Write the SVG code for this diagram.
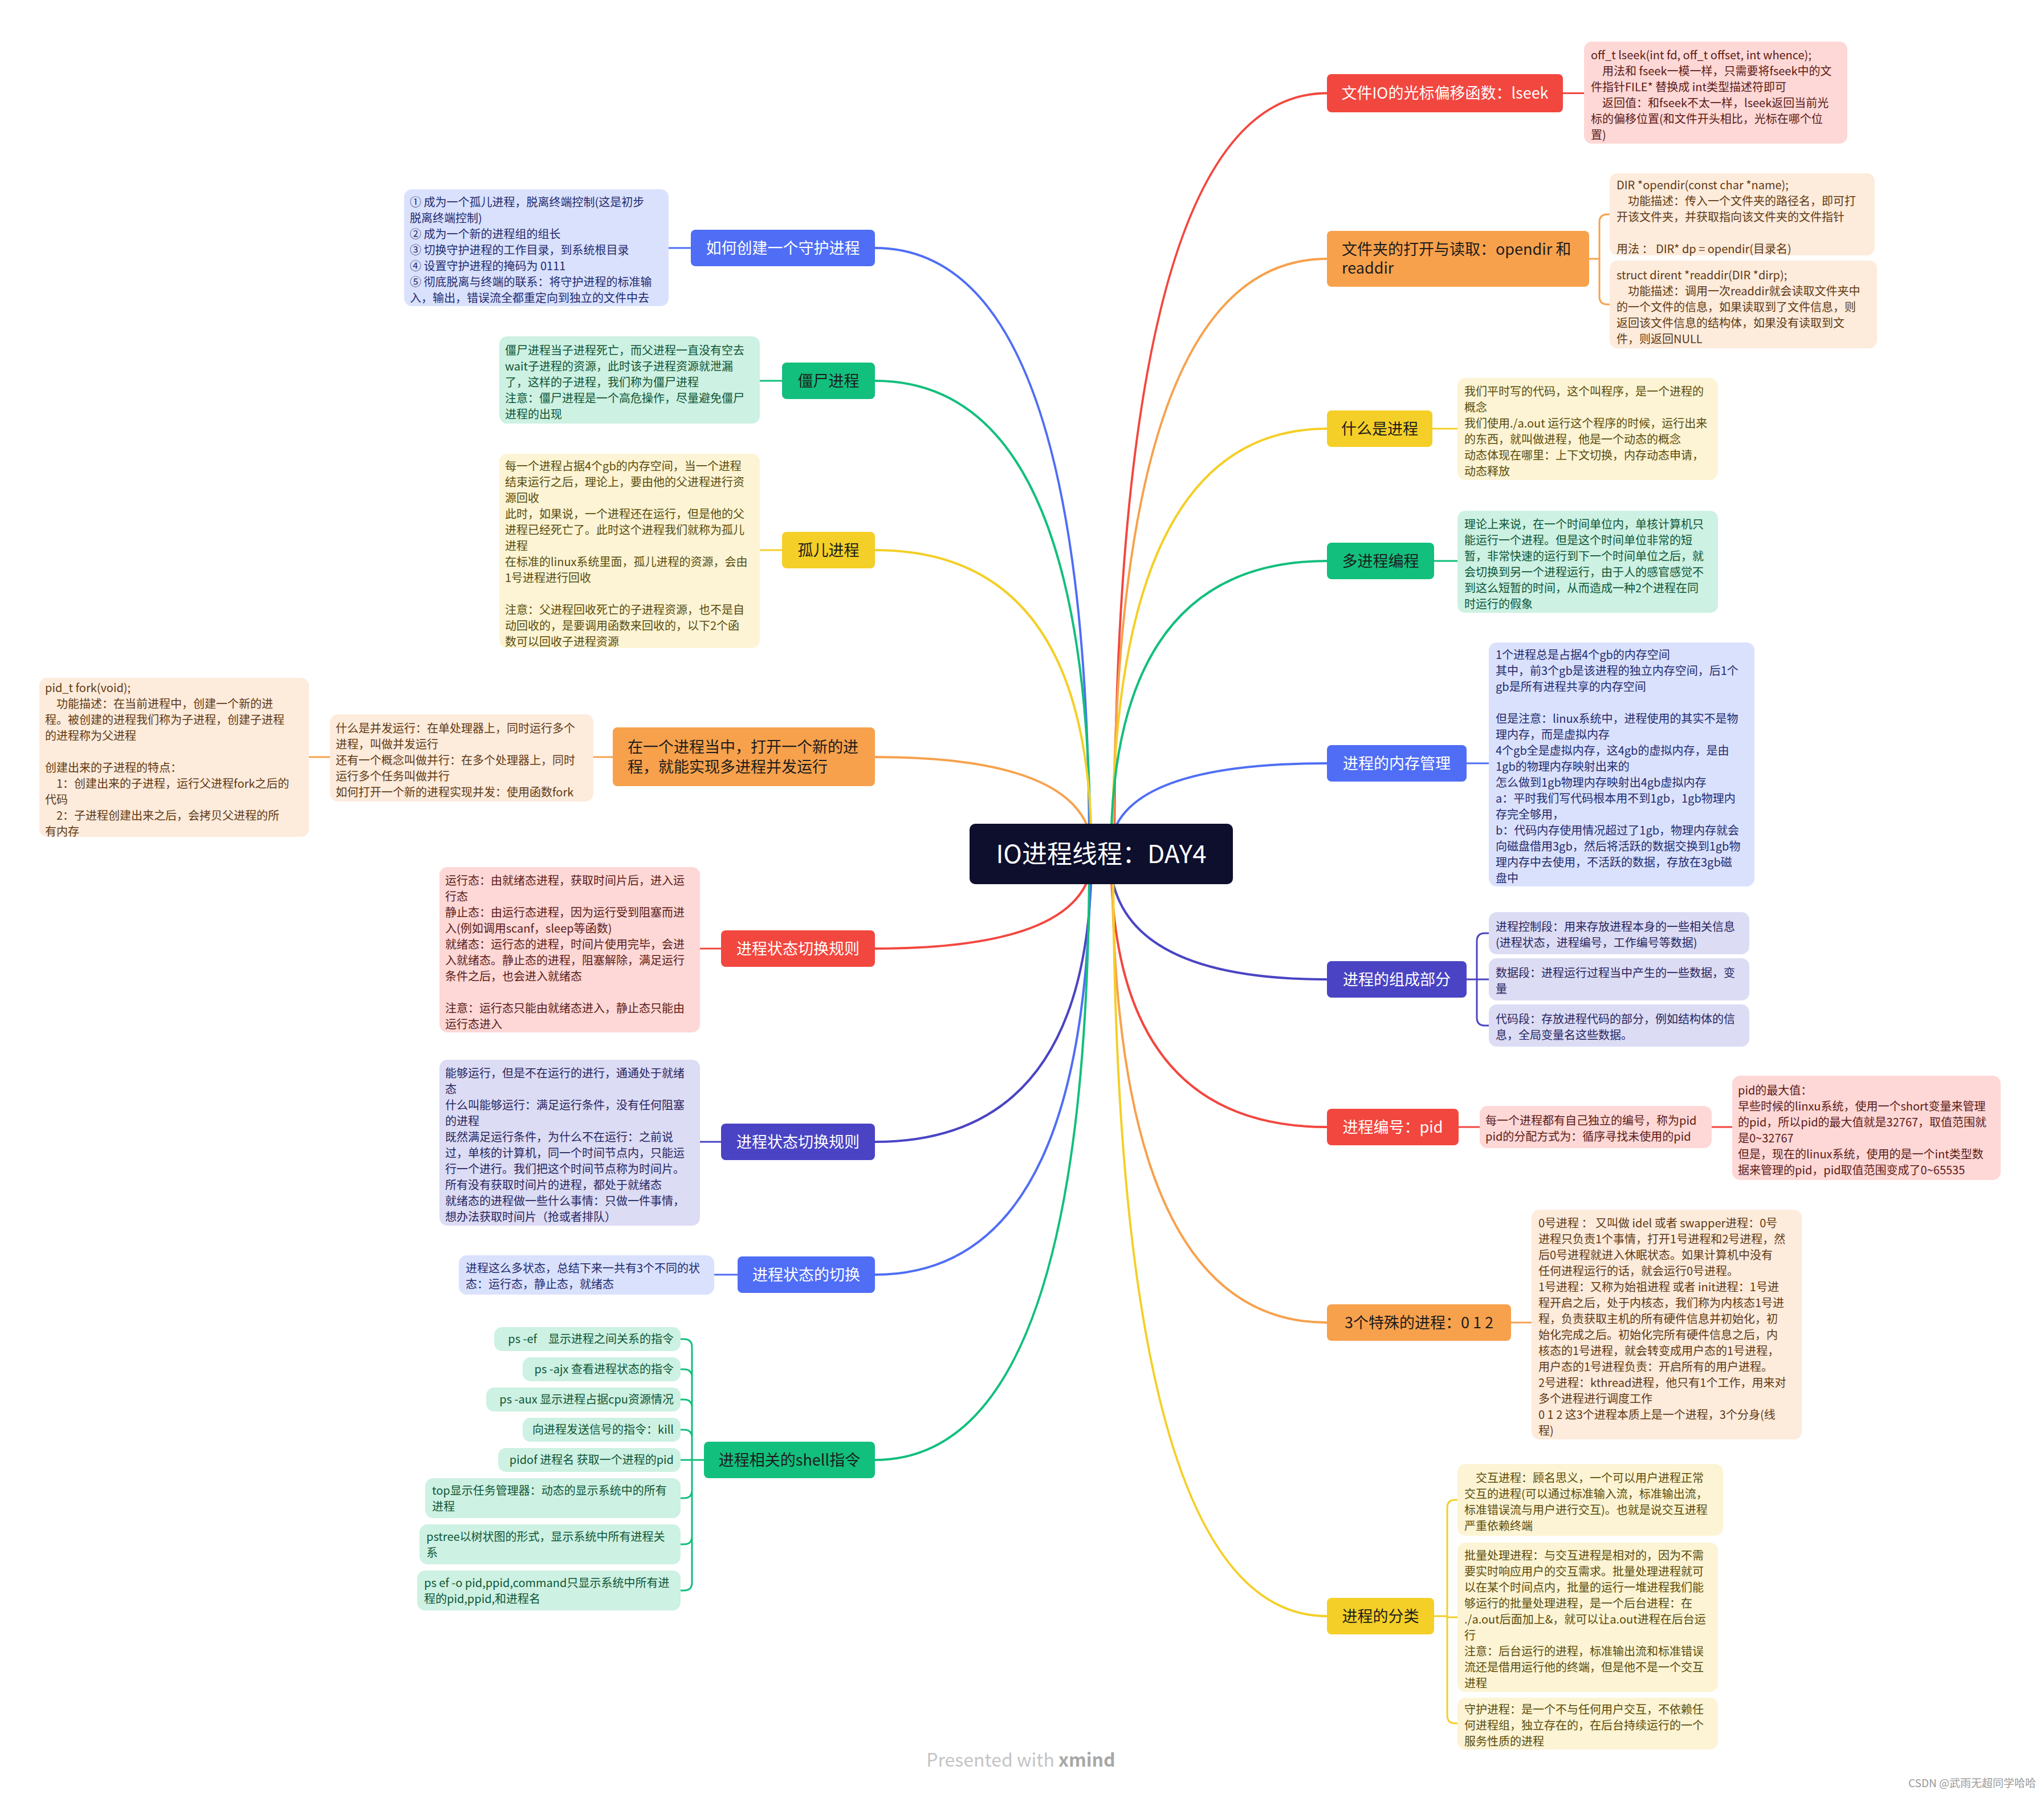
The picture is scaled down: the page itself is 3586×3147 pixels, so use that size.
<svg xmlns="http://www.w3.org/2000/svg" width="3586" height="3147" viewBox="0 0 3586 3147">
<style>
text{font-family:"Noto Sans CJK SC","Noto Sans",sans-serif}
.bt{font-size:20px}
.nt{font-size:27px}
.w{fill:#ffffff}
.dk{fill:#1c1c1c}
.c{fill:none;stroke-linecap:round;stroke-linejoin:round}
.m{stroke-width:4}
.s{stroke-width:3}
.sr{stroke:#f2473f}.so{stroke:#f7a14c}.sy{stroke:#f4cf27}.sg{stroke:#12bf7d}.sb{stroke:#4f6ef5}.sp{stroke:#4a44c4}
.nr{fill:#f2473f}.no{fill:#f7a14c}.ny{fill:#f4cf27}.ng{fill:#12bf7d}.nb{fill:#4f6ef5}.np{fill:#4a44c4}
.br{fill:#fdd8d6}.bo{fill:#fdebdc}.by{fill:#fcf4d4}.bg{fill:#cdf1e2}.bb{fill:#dae1fd}.bp{fill:#dcdcf4}
.tr{fill:#5c1a17}.to{fill:#5f3a13}.ty{fill:#5a4c0c}.tg{fill:#0e5537}.tb{fill:#1f2b6e}.tp{fill:#28255e}
</style>
<rect width="3586" height="3147" fill="#ffffff"/>

<g id="connectors">
<path class="c m sr" d="M1955,1498 Q1955,163.5 2328,163.5"/>
<path class="c m so" d="M1953,1498 Q1953,454 2328,454"/>
<path class="c m sy" d="M1951,1498 Q1951,752 2328,752"/>
<path class="c m sg" d="M1949,1498 Q1949,984 2328,984"/>
<path class="c m sb" d="M1947,1498 Q1947,1339 2328,1339"/>
<path class="c m sp" d="M1947,1498 Q1947,1718 2328,1718"/>
<path class="c m sr" d="M1949,1498 Q1949,1977 2328,1977"/>
<path class="c m so" d="M1951,1498 Q1951,2320 2328,2320"/>
<path class="c m sy" d="M1953,1498 Q1953,2835 2328,2835"/>
<path class="c m sb" d="M1911,1498 Q1911,435 1535,435"/>
<path class="c m sg" d="M1913,1498 Q1913,668 1535,668"/>
<path class="c m sy" d="M1915,1498 Q1915,965 1535,965"/>
<path class="c m so" d="M1917,1498 Q1917,1328 1535,1328"/>
<path class="c m sr" d="M1917,1498 Q1917,1664 1535,1664"/>
<path class="c m sp" d="M1915,1498 Q1915,2003 1535,2003"/>
<path class="c m sb" d="M1913,1498 Q1913,2236 1535,2236"/>
<path class="c m sg" d="M1911,1498 Q1911,2561 1535,2561"/>

<path class="c s sb" d="M1212,435 H1173"/>
<path class="c s sg" d="M1372,668 H1333"/>
<path class="c s sy" d="M1372,965 H1333"/>
<path class="c s so" d="M1075,1328 H1041 M579,1328 H542"/>
<path class="c s sr" d="M1265,1664 H1228"/>
<path class="c s sp" d="M1265,2003 H1228"/>
<path class="c s sb" d="M1294,2236 H1253"/>
<path class="c s sg" d="M1235,2561 H1214 M1214,2561 V2363 Q1214,2349 1200,2349 H1194 M1214,2416 Q1214,2402 1200,2402 H1194 M1214,2469 Q1214,2455 1200,2455 H1194 M1214,2522 Q1214,2508 1200,2508 H1194 M1214,2561 H1194 M1214,2561 V2776 Q1214,2790 1200,2790 H1194 M1214,2614 Q1214,2628 1200,2628 H1194 M1214,2695 Q1214,2709 1200,2709 H1194"/>

<path class="c s sr" d="M2742,163.5 H2779"/>
<path class="c s so" d="M2788,454 H2806 M2806,454 V390 Q2806,376 2820,376 H2824 M2806,454 V520 Q2806,534 2820,534 H2824"/>
<path class="c s sy" d="M2513,752 H2557"/>
<path class="c s sg" d="M2516,984 H2557"/>
<path class="c s sb" d="M2573,1339 H2612"/>
<path class="c s sp" d="M2573,1718 H2612 M2591,1718 V1651 Q2591,1637 2605,1637 H2612 M2591,1718 V1785 Q2591,1799 2605,1799 H2612"/>
<path class="c s sr" d="M2559,1977 H2596 M3003,1977 H3039"/>
<path class="c s so" d="M2651,2320 H2687"/>
<path class="c s sy" d="M2516,2835 H2539 M2539,2835 V2645 Q2539,2631 2553,2631 H2557 M2539,2835 V3009 Q2539,3023 2553,3023 H2557 M2539,2837 H2557"/>
</g>

<g id="root">
<rect x="1701" y="1445" width="462" height="106" rx="10" fill="#0d0f2d"/>
<text x="1932" y="1514" font-size="44" text-anchor="middle" class="w">IO进程线程：DAY4</text>
</g>

<!-- Right side main nodes -->
<g id="n-lseek">
<rect class="nr" x="2328" y="130" width="414" height="67" rx="8"/>
<text class="nt w" x="2535" y="173" text-anchor="middle">文件IO的光标偏移函数：lseek</text>
</g>
<g id="b-lseek">
<rect class="br" x="2779" y="73" width="462" height="179" rx="14"/>
<text class="bt tr" x="2791" y="104"><tspan x="2791">off_t lseek(int fd, off_t offset, int whence);</tspan><tspan x="2791" dy="28">　用法和 fseek一模一样，只需要将fseek中的文</tspan><tspan x="2791" dy="28">件指针FILE* 替换成 int类型描述符即可</tspan><tspan x="2791" dy="28">　返回值：和fseek不太一样，lseek返回当前光</tspan><tspan x="2791" dy="28">标的偏移位置(和文件开头相比，光标在哪个位</tspan><tspan x="2791" dy="28">置)</tspan></text>
</g>

<g id="n-opendir">
<rect class="no" x="2328" y="405" width="460" height="98" rx="8"/>
<text class="nt dk" x="2354" y="447"><tspan x="2354">文件夹的打开与读取：opendir 和</tspan><tspan x="2354" dy="33">readdir</tspan></text>
</g>
<g id="b-opendir">
<rect class="bo" x="2824" y="304" width="465" height="144" rx="14"/>
<text class="bt to" x="2836" y="332"><tspan x="2836">DIR *opendir(const char *name);</tspan><tspan x="2836" dy="28">　功能描述：传入一个文件夹的路径名，即可打</tspan><tspan x="2836" dy="28">开该文件夹，并获取指向该文件夹的文件指针</tspan><tspan x="2836" dy="56">用法 ： DIR* dp = opendir(目录名)</tspan></text>
</g>
<g id="b-readdir">
<rect class="bo" x="2824" y="457" width="469" height="154" rx="14"/>
<text class="bt to" x="2836" y="490"><tspan x="2836">struct dirent *readdir(DIR *dirp);</tspan><tspan x="2836" dy="28">　功能描述：调用一次readdir就会读取文件夹中</tspan><tspan x="2836" dy="28">的一个文件的信息，如果读取到了文件信息，则</tspan><tspan x="2836" dy="28">返回该文件信息的结构体，如果没有读取到文</tspan><tspan x="2836" dy="28">件，则返回NULL</tspan></text>
</g>

<g id="n-what">
<rect class="ny" x="2328" y="720" width="185" height="64" rx="8"/>
<text class="nt dk" x="2420.5" y="761.5" text-anchor="middle">什么是进程</text>
</g>
<g id="b-what">
<rect class="by" x="2557" y="663" width="457" height="179" rx="14"/>
<text class="bt ty" x="2569" y="694"><tspan x="2569">我们平时写的代码，这个叫程序，是一个进程的</tspan><tspan x="2569" dy="28">概念</tspan><tspan x="2569" dy="28">我们使用./a.out 运行这个程序的时候，运行出来</tspan><tspan x="2569" dy="28">的东西，就叫做进程，他是一个动态的概念</tspan><tspan x="2569" dy="28">动态体现在哪里：上下文切换，内存动态申请，</tspan><tspan x="2569" dy="28">动态释放</tspan></text>
</g>

<g id="n-multi">
<rect class="ng" x="2328" y="952" width="188" height="64" rx="8"/>
<text class="nt dk" x="2422" y="993.5" text-anchor="middle">多进程编程</text>
</g>
<g id="b-multi">
<rect class="bg" x="2557" y="896" width="457" height="179" rx="14"/>
<text class="bt tg" x="2569" y="927"><tspan x="2569">理论上来说，在一个时间单位内，单核计算机只</tspan><tspan x="2569" dy="28">能运行一个进程。但是这个时间单位非常的短</tspan><tspan x="2569" dy="28">暂，非常快速的运行到下一个时间单位之后，就</tspan><tspan x="2569" dy="28">会切换到另一个进程运行，由于人的感官感觉不</tspan><tspan x="2569" dy="28">到这么短暂的时间，从而造成一种2个进程在同</tspan><tspan x="2569" dy="28">时运行的假象</tspan></text>
</g>

<g id="n-mem">
<rect class="nb" x="2328" y="1307" width="245" height="64" rx="8"/>
<text class="nt w" x="2450.5" y="1348.5" text-anchor="middle">进程的内存管理</text>
</g>
<g id="b-mem">
<rect class="bb" x="2612" y="1127" width="466" height="428" rx="14"/>
<text class="bt tb" x="2624" y="1156"><tspan x="2624">1个进程总是占据4个gb的内存空间</tspan><tspan x="2624" dy="28">其中，前3个gb是该进程的独立内存空间，后1个</tspan><tspan x="2624" dy="28">gb是所有进程共享的内存空间</tspan><tspan x="2624" dy="56">但是注意：linux系统中，进程使用的其实不是物</tspan><tspan x="2624" dy="28">理内存，而是虚拟内存</tspan><tspan x="2624" dy="28">4个gb全是虚拟内存，这4gb的虚拟内存，是由</tspan><tspan x="2624" dy="28">1gb的物理内存映射出来的</tspan><tspan x="2624" dy="28">怎么做到1gb物理内存映射出4gb虚拟内存</tspan><tspan x="2624" dy="28">a：平时我们写代码根本用不到1gb，1gb物理内</tspan><tspan x="2624" dy="28">存完全够用，</tspan><tspan x="2624" dy="28">b：代码内存使用情况超过了1gb，物理内存就会</tspan><tspan x="2624" dy="28">向磁盘借用3gb，然后将活跃的数据交换到1gb物</tspan><tspan x="2624" dy="28">理内存中去使用，不活跃的数据，存放在3gb磁</tspan><tspan x="2624" dy="28">盘中</tspan></text>
</g>

<g id="n-comp">
<rect class="np" x="2328" y="1686" width="245" height="64" rx="8"/>
<text class="nt w" x="2450.5" y="1727.5" text-anchor="middle">进程的组成部分</text>
</g>
<g id="b-comp1">
<rect class="bp" x="2612" y="1600" width="457" height="74" rx="14"/>
<text class="bt tp" x="2624" y="1633"><tspan x="2624">进程控制段：用来存放进程本身的一些相关信息</tspan><tspan x="2624" dy="28">(进程状态，进程编号，工作编号等数据)</tspan></text>
</g>
<g id="b-comp2">
<rect class="bp" x="2612" y="1681" width="457" height="74" rx="14"/>
<text class="bt tp" x="2624" y="1714"><tspan x="2624">数据段：进程运行过程当中产生的一些数据，变</tspan><tspan x="2624" dy="28">量</tspan></text>
</g>
<g id="b-comp3">
<rect class="bp" x="2612" y="1762" width="457" height="74" rx="14"/>
<text class="bt tp" x="2624" y="1795"><tspan x="2624">代码段：存放进程代码的部分，例如结构体的信</tspan><tspan x="2624" dy="28">息，全局变量名这些数据。</tspan></text>
</g>

<g id="n-pid">
<rect class="nr" x="2328" y="1945" width="231" height="64" rx="8"/>
<text class="nt w" x="2443.5" y="1986.5" text-anchor="middle">进程编号：pid</text>
</g>
<g id="b-pid1">
<rect class="br" x="2596" y="1940" width="407" height="74" rx="14"/>
<text class="bt tr" x="2606" y="1973"><tspan x="2606">每一个进程都有自己独立的编号，称为pid</tspan><tspan x="2606" dy="28">pid的分配方式为：循序寻找未使用的pid</tspan></text>
</g>
<g id="b-pid2">
<rect class="br" x="3039" y="1887" width="471" height="183" rx="14"/>
<text class="bt tr" x="3049" y="1920"><tspan x="3049">pid的最大值：</tspan><tspan x="3049" dy="28">早些时候的linxu系统，使用一个short变量来管理</tspan><tspan x="3049" dy="28">的pid，所以pid的最大值就是32767，取值范围就</tspan><tspan x="3049" dy="28">是0~32767</tspan><tspan x="3049" dy="28">但是，现在的linux系统，使用的是一个int类型数</tspan><tspan x="3049" dy="28">据来管理的pid，pid取值范围变成了0~65535</tspan></text>
</g>

<g id="n-special">
<rect class="no" x="2328" y="2288" width="323" height="64" rx="8"/>
<text class="nt dk" x="2489.5" y="2329.5" text-anchor="middle">3个特殊的进程：0 1 2</text>
</g>
<g id="b-special">
<rect class="bo" x="2687" y="2122" width="474" height="403" rx="14"/>
<text class="bt to" x="2699" y="2153"><tspan x="2699">0号进程 ： 又叫做 idel 或者 swapper进程：0号</tspan><tspan x="2699" dy="28">进程只负责1个事情，打开1号进程和2号进程，然</tspan><tspan x="2699" dy="28">后0号进程就进入休眠状态。如果计算机中没有</tspan><tspan x="2699" dy="28">任何进程运行的话，就会运行0号进程。</tspan><tspan x="2699" dy="28">1号进程：又称为始祖进程 或者 init进程：1号进</tspan><tspan x="2699" dy="28">程开启之后，处于内核态，我们称为内核态1号进</tspan><tspan x="2699" dy="28">程，负责获取主机的所有硬件信息并初始化，初</tspan><tspan x="2699" dy="28">始化完成之后。初始化完所有硬件信息之后，内</tspan><tspan x="2699" dy="28">核态的1号进程，就会转变成用户态的1号进程，</tspan><tspan x="2699" dy="28">用户态的1号进程负责：开启所有的用户进程。</tspan><tspan x="2699" dy="28">2号进程：kthread进程，他只有1个工作，用来对</tspan><tspan x="2699" dy="28">多个进程进行调度工作</tspan><tspan x="2699" dy="28">0 1 2 这3个进程本质上是一个进程，3个分身(线</tspan><tspan x="2699" dy="28">程)</tspan></text>
</g>

<g id="n-class">
<rect class="ny" x="2328" y="2803" width="188" height="64" rx="8"/>
<text class="nt dk" x="2422" y="2844.5" text-anchor="middle">进程的分类</text>
</g>
<g id="b-class1">
<rect class="by" x="2557" y="2568" width="466" height="126" rx="14"/>
<text class="bt ty" x="2569" y="2600"><tspan x="2569">　交互进程：顾名思义，一个可以用户进程正常</tspan><tspan x="2569" dy="28">交互的进程(可以通过标准输入流，标准输出流，</tspan><tspan x="2569" dy="28">标准错误流与用户进行交互)。也就是说交互进程</tspan><tspan x="2569" dy="28">严重依赖终端</tspan></text>
</g>
<g id="b-class2">
<rect class="by" x="2557" y="2706" width="457" height="262" rx="14"/>
<text class="bt ty" x="2569" y="2736"><tspan x="2569">批量处理进程：与交互进程是相对的，因为不需</tspan><tspan x="2569" dy="28">要实时响应用户的交互需求。批量处理进程就可</tspan><tspan x="2569" dy="28">以在某个时间点内，批量的运行一堆进程我们能</tspan><tspan x="2569" dy="28">够运行的批量处理进程，是一个后台进程：在</tspan><tspan x="2569" dy="28">./a.out后面加上&amp;，就可以让a.out进程在后台运</tspan><tspan x="2569" dy="28">行</tspan><tspan x="2569" dy="28">注意：后台运行的进程，标准输出流和标准错误</tspan><tspan x="2569" dy="28">流还是借用运行他的终端，但是他不是一个交互</tspan><tspan x="2569" dy="28">进程</tspan></text>
</g>
<g id="b-class3">
<rect class="by" x="2557" y="2978" width="457" height="91" rx="14"/>
<text class="bt ty" x="2569" y="3006"><tspan x="2569">守护进程：是一个不与任何用户交互，不依赖任</tspan><tspan x="2569" dy="28">何进程组，独立存在的，在后台持续运行的一个</tspan><tspan x="2569" dy="28">服务性质的进程</tspan></text>
</g>

<!-- Left side -->
<g id="n-daemon">
<rect class="nb" x="1212" y="403" width="323" height="64" rx="8"/>
<text class="nt w" x="1373.5" y="444.5" text-anchor="middle">如何创建一个守护进程</text>
</g>
<g id="b-daemon">
<rect class="bb" x="709" y="332" width="464" height="205" rx="14"/>
<text class="bt tb" x="719" y="362"><tspan x="719">① 成为一个孤儿进程，脱离终端控制(这是初步</tspan><tspan x="719" dy="28">脱离终端控制)</tspan><tspan x="719" dy="28">② 成为一个新的进程组的组长</tspan><tspan x="719" dy="28">③ 切换守护进程的工作目录，到系统根目录</tspan><tspan x="719" dy="28">④ 设置守护进程的掩码为 0111</tspan><tspan x="719" dy="28">⑤ 彻底脱离与终端的联系：将守护进程的标准输</tspan><tspan x="719" dy="28">入，输出，错误流全都重定向到独立的文件中去</tspan></text>
</g>

<g id="n-zombie">
<rect class="ng" x="1372" y="636" width="163" height="64" rx="8"/>
<text class="nt dk" x="1453.5" y="677.5" text-anchor="middle">僵尸进程</text>
</g>
<g id="b-zombie">
<rect class="bg" x="876" y="590" width="457" height="153" rx="14"/>
<text class="bt tg" x="886" y="622"><tspan x="886">僵尸进程当子进程死亡，而父进程一直没有空去</tspan><tspan x="886" dy="28">wait子进程的资源，此时该子进程资源就泄漏</tspan><tspan x="886" dy="28">了，这样的子进程，我们称为僵尸进程</tspan><tspan x="886" dy="28">注意：僵尸进程是一个高危操作，尽量避免僵尸</tspan><tspan x="886" dy="28">进程的出现</tspan></text>
</g>

<g id="n-orphan">
<rect class="ny" x="1372" y="933" width="163" height="64" rx="8"/>
<text class="nt dk" x="1453.5" y="974.5" text-anchor="middle">孤儿进程</text>
</g>
<g id="b-orphan">
<rect class="by" x="876" y="796" width="457" height="341" rx="14"/>
<text class="bt ty" x="886" y="825"><tspan x="886">每一个进程占据4个gb的内存空间，当一个进程</tspan><tspan x="886" dy="28">结束运行之后，理论上，要由他的父进程进行资</tspan><tspan x="886" dy="28">源回收</tspan><tspan x="886" dy="28">此时，如果说，一个进程还在运行，但是他的父</tspan><tspan x="886" dy="28">进程已经死亡了。此时这个进程我们就称为孤儿</tspan><tspan x="886" dy="28">进程</tspan><tspan x="886" dy="28">在标准的linux系统里面，孤儿进程的资源，会由</tspan><tspan x="886" dy="28">1号进程进行回收</tspan><tspan x="886" dy="56">注意：父进程回收死亡的子进程资源，也不是自</tspan><tspan x="886" dy="28">动回收的，是要调用函数来回收的，以下2个函</tspan><tspan x="886" dy="28">数可以回收子进程资源</tspan></text>
</g>

<g id="n-concurrent">
<rect class="no" x="1075" y="1276" width="460" height="103" rx="8"/>
<text class="nt dk" x="1101" y="1319.5"><tspan x="1101">在一个进程当中，打开一个新的进</tspan><tspan x="1101" dy="35">程，就能实现多进程并发运行</tspan></text>
</g>
<g id="b-concurrent">
<rect class="bo" x="579" y="1253" width="462" height="153" rx="14"/>
<text class="bt to" x="589" y="1285"><tspan x="589">什么是并发运行：在单处理器上，同时运行多个</tspan><tspan x="589" dy="28">进程，叫做并发运行</tspan><tspan x="589" dy="28">还有一个概念叫做并行：在多个处理器上，同时</tspan><tspan x="589" dy="28">运行多个任务叫做并行</tspan><tspan x="589" dy="28">如何打开一个新的进程实现并发：使用函数fork</tspan></text>
</g>
<g id="b-fork">
<rect class="bo" x="69" y="1189" width="473" height="279" rx="14"/>
<text class="bt to" x="79" y="1214"><tspan x="79">pid_t fork(void);</tspan><tspan x="79" dy="28">　功能描述：在当前进程中，创建一个新的进</tspan><tspan x="79" dy="28">程。被创建的进程我们称为子进程，创建子进程</tspan><tspan x="79" dy="28">的进程称为父进程</tspan><tspan x="79" dy="56">创建出来的子进程的特点：</tspan><tspan x="79" dy="28">　1：创建出来的子进程，运行父进程fork之后的</tspan><tspan x="79" dy="28">代码</tspan><tspan x="79" dy="28">　2：子进程创建出来之后，会拷贝父进程的所</tspan><tspan x="79" dy="28">有内存</tspan></text>
</g>

<g id="n-state1">
<rect class="nr" x="1265" y="1632" width="270" height="64" rx="8"/>
<text class="nt w" x="1400" y="1673.5" text-anchor="middle">进程状态切换规则</text>
</g>
<g id="b-state1">
<rect class="br" x="771" y="1521" width="457" height="290" rx="14"/>
<text class="bt tr" x="781" y="1552"><tspan x="781">运行态：由就绪态进程，获取时间片后，进入运</tspan><tspan x="781" dy="28">行态</tspan><tspan x="781" dy="28">静止态：由运行态进程，因为运行受到阻塞而进</tspan><tspan x="781" dy="28">入(例如调用scanf，sleep等函数)</tspan><tspan x="781" dy="28">就绪态：运行态的进程，时间片使用完毕，会进</tspan><tspan x="781" dy="28">入就绪态。静止态的进程，阻塞解除，满足运行</tspan><tspan x="781" dy="28">条件之后，也会进入就绪态</tspan><tspan x="781" dy="56">注意：运行态只能由就绪态进入，静止态只能由</tspan><tspan x="781" dy="28">运行态进入</tspan></text>
</g>

<g id="n-state2">
<rect class="np" x="1265" y="1971" width="270" height="64" rx="8"/>
<text class="nt w" x="1400" y="2012.5" text-anchor="middle">进程状态切换规则</text>
</g>
<g id="b-state2">
<rect class="bp" x="771" y="1859" width="457" height="291" rx="14"/>
<text class="bt tp" x="781" y="1890"><tspan x="781">能够运行，但是不在运行的进行，通通处于就绪</tspan><tspan x="781" dy="28">态</tspan><tspan x="781" dy="28">什么叫能够运行：满足运行条件，没有任何阻塞</tspan><tspan x="781" dy="28">的进程</tspan><tspan x="781" dy="28">既然满足运行条件，为什么不在运行：之前说</tspan><tspan x="781" dy="28">过，单核的计算机，同一个时间节点内，只能运</tspan><tspan x="781" dy="28">行一个进行。我们把这个时间节点称为时间片。</tspan><tspan x="781" dy="28">所有没有获取时间片的进程，都处于就绪态</tspan><tspan x="781" dy="28">就绪态的进程做一些什么事情：只做一件事情，</tspan><tspan x="781" dy="28">想办法获取时间片（抢或者排队）</tspan></text>
</g>

<g id="n-switch">
<rect class="nb" x="1294" y="2204" width="241" height="64" rx="8"/>
<text class="nt w" x="1414.5" y="2245.5" text-anchor="middle">进程状态的切换</text>
</g>
<g id="b-switch">
<rect class="bb" x="805" y="2202" width="448" height="69" rx="14"/>
<text class="bt tb" x="817" y="2232"><tspan x="817">进程这么多状态，总结下来一共有3个不同的状</tspan><tspan x="817" dy="28">态：运行态，静止态，就绪态</tspan></text>
</g>

<g id="n-shell">
<rect class="ng" x="1235" y="2529" width="300" height="64" rx="8"/>
<text class="nt dk" x="1385" y="2570.5" text-anchor="middle">进程相关的shell指令</text>
</g>
<g id="b-sh1">
<rect class="bg" x="867" y="2328" width="327" height="42" rx="14"/>
<text class="bt tg" x="1182" y="2356" text-anchor="end">ps -ef　显示进程之间关系的指令</text>
</g>
<g id="b-sh2">
<rect class="bg" x="917" y="2381" width="277" height="42" rx="14"/>
<text class="bt tg" x="1182" y="2409" text-anchor="end">ps -ajx 查看进程状态的指令</text>
</g>
<g id="b-sh3">
<rect class="bg" x="853" y="2434" width="341" height="42" rx="14"/>
<text class="bt tg" x="1182" y="2462" text-anchor="end">ps -aux 显示进程占据cpu资源情况</text>
</g>
<g id="b-sh4">
<rect class="bg" x="917" y="2487" width="277" height="42" rx="14"/>
<text class="bt tg" x="1182" y="2515" text-anchor="end">向进程发送信号的指令：kill</text>
</g>
<g id="b-sh5">
<rect class="bg" x="874" y="2540" width="320" height="42" rx="14"/>
<text class="bt tg" x="1182" y="2568" text-anchor="end">pidof 进程名 获取一个进程的pid</text>
</g>
<g id="b-sh6">
<rect class="bg" x="746" y="2593" width="448" height="70" rx="14"/>
<text class="bt tg" x="758" y="2622"><tspan x="758">top显示任务管理器：动态的显示系统中的所有</tspan><tspan x="758" dy="28">进程</tspan></text>
</g>
<g id="b-sh7">
<rect class="bg" x="736" y="2674" width="458" height="70" rx="14"/>
<text class="bt tg" x="748" y="2703"><tspan x="748">pstree以树状图的形式，显示系统中所有进程关</tspan><tspan x="748" dy="28">系</tspan></text>
</g>
<g id="b-sh8">
<rect class="bg" x="732" y="2755" width="462" height="70" rx="14"/>
<text class="bt tg" x="744" y="2784"><tspan x="744">ps ef -o pid,ppid,command只显示系统中所有进</tspan><tspan x="744" dy="28">程的pid,ppid,和进程名</tspan></text>
</g>

<g id="footer">
<text x="1791" y="3099" font-size="32" text-anchor="middle" fill="#c4c4c4">Presented with <tspan font-weight="bold" fill="#a8a8a8">xmind</tspan></text>
<text x="3572" y="3135" font-size="19" text-anchor="end" fill="#9a9a9a">CSDN @武雨无超同学哈哈</text>
</g>
</svg>
